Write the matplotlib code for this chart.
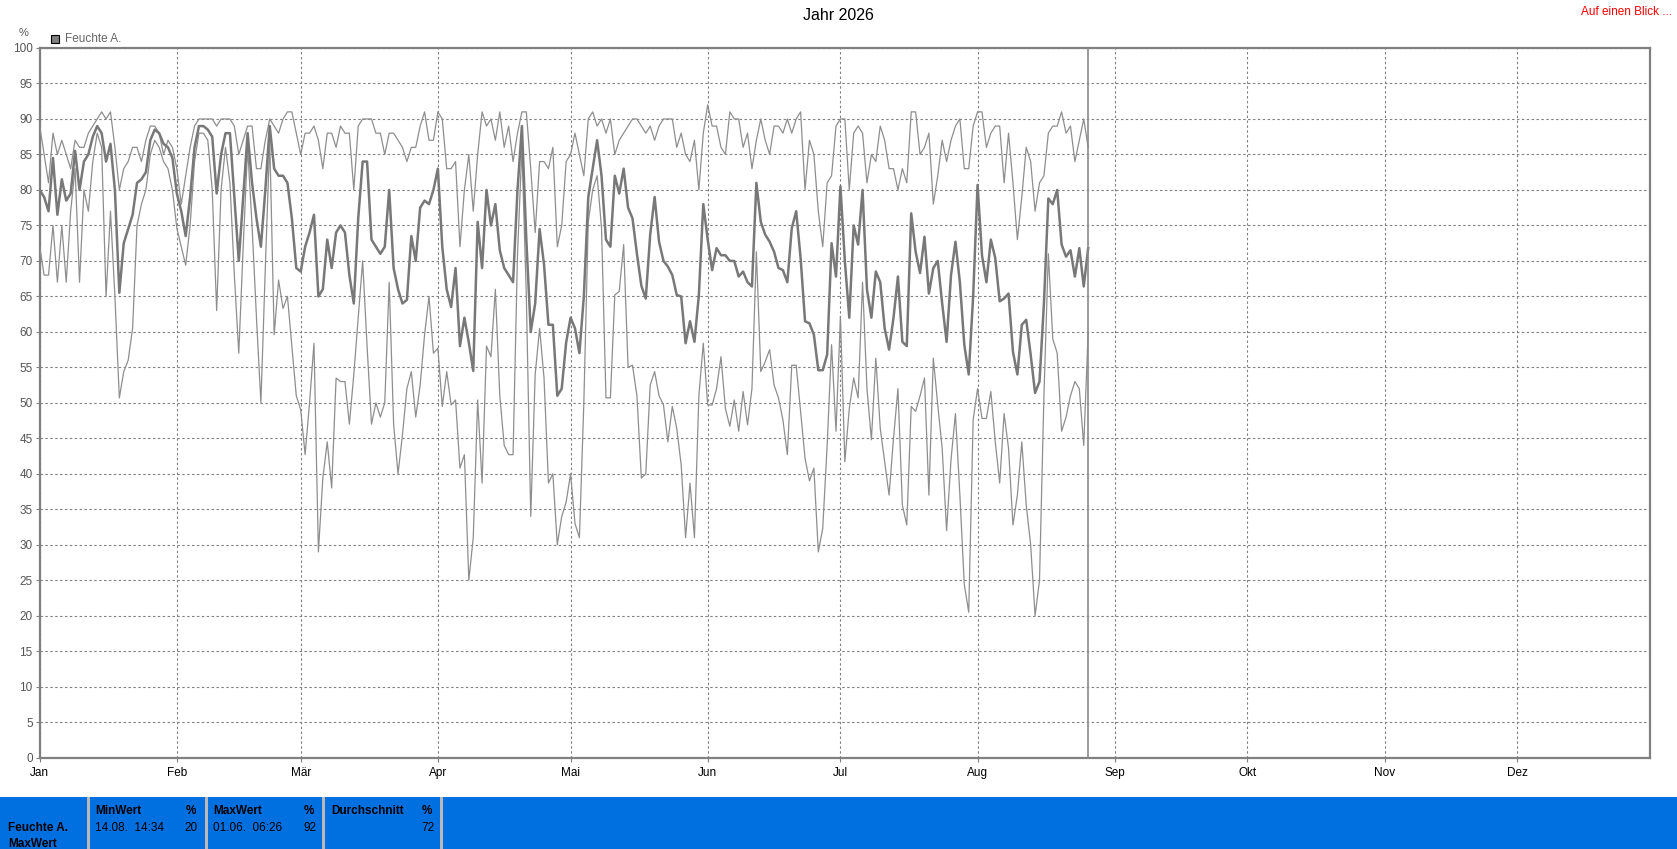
import matplotlib
matplotlib.use("Agg")
import matplotlib.pyplot as plt
from matplotlib.patches import Rectangle
from datetime import date
import numpy as np

plt.rcParams['font.family'] = ['Liberation Sans', 'DejaVu Sans']

W, H = 1677, 849

# daily values, Jan 1 .. Aug 26 2026 (relative humidity, %)
hum_max = [89, 85, 81, 88, 85, 87, 85, 83, 87, 86,
           86, 88, 89, 90, 91, 90, 91, 86, 80, 83,
           84, 86, 86, 84, 87, 89, 89, 88, 85, 87,
           86, 83, 78, 82, 86, 89, 90, 90, 90, 90,
           89, 90, 90, 90, 89, 85, 87, 89, 89, 83,
           83, 87, 90, 89, 88, 90, 91, 91, 88, 85,
           88, 88, 89, 87, 83, 88, 88, 86, 89, 88,
           88, 80, 89, 90, 90, 90, 88, 88, 85, 88,
           88, 87, 86, 84, 86, 86, 89, 91, 87, 87,
           91, 90, 83, 83, 84, 72, 80, 85, 77, 85,
           91, 89, 90, 87, 91, 86, 89, 84, 88, 91,
           91, 83, 74, 84, 84, 83, 86, 72, 75, 84,
           85, 88, 85, 82, 90, 91, 89, 90, 88, 90,
           85, 87, 88, 89, 90, 90, 89, 88, 89, 87,
           89, 90, 90, 90, 86, 88, 85, 84, 87, 80,
           88, 92, 89, 89, 86, 85, 91, 90, 90, 86,
           88, 83, 87, 90, 87, 85, 89, 89, 88, 90,
           88, 90, 91, 80, 87, 85, 77, 72, 81, 82,
           89, 90, 90, 80, 88, 89, 88, 81, 85, 84,
           89, 87, 83, 83, 80, 83, 81, 91, 91, 85,
           86, 88, 78, 82, 87, 84, 87, 89, 90, 83,
           83, 89, 91, 91, 86, 88, 89, 89, 81, 88,
           81, 73, 79, 86, 84, 77, 81, 82, 88, 89,
           89, 91, 88, 89, 84, 87, 90, 86]

hum_mean = [80, 79, 77, 84.5, 76.5, 81.5, 78.5, 79.5, 85.5, 80,
            84, 85, 87.5, 89, 88, 84, 86.5, 80, 65.5, 72.5,
            74.5, 76.5, 81, 81.5, 82.5, 87, 88.5, 88, 86.5, 86,
            84.5, 79.5, 77, 73.5, 79, 86, 89, 89, 88.5, 87.5,
            79.5, 85, 88, 88, 79, 70, 79, 88, 81, 76,
            72, 80, 89, 83, 82, 82, 81, 76, 69, 68.5,
            72, 74, 76.5, 65, 66, 73, 69, 74, 75, 74,
            68, 64, 76, 84, 84, 73, 72, 71, 72, 80,
            69, 66, 64, 64.5, 73.5, 70, 77.5, 78.5, 78, 80,
            83, 72, 66, 63.5, 69, 58, 62, 58.5, 54.5, 75.5,
            69, 80, 75, 78, 71.5, 69, 68, 67, 80, 89,
            73, 60, 64, 74.5, 69.5, 61, 61, 51, 52, 58.5,
            62, 60.5, 57, 65, 79, 83, 87, 82, 73, 72,
            82, 79.5, 83, 77.5, 76, 71, 66.5, 64.7, 73.7, 79,
            72.7, 70, 69.2, 68, 65.2, 65, 58.4, 61.5, 58.6, 65.2,
            78, 73, 68.7, 71.8, 70.8, 70.8, 70, 70, 67.8, 68.5,
            67, 66.4, 81, 75.5, 73.7, 72.7, 71.3, 69, 68.7, 67,
            74.6, 77, 70.4, 61.5, 61.2, 59.6, 54.6, 54.6, 56.8, 72.5,
            67.8, 80.5, 70, 62, 75, 72.3, 80, 66, 62, 68.5,
            67, 60.5, 57.5, 62, 67.8, 58.6, 58, 76.7, 71.3, 68.3,
            73.4, 65.4, 69, 70, 64, 58.6, 68, 72.7, 67, 58.2,
            54, 65, 80.7, 70.8, 67, 73, 70.4, 64.3, 64.7, 65.4,
            57.2, 54, 61, 61.7, 56.8, 51.4, 53, 64, 78.8, 78,
            80, 72.3, 70.6, 71.5, 67.8, 71.8, 66.4, 71.8]

hum_min = [72, 68, 68, 75, 67, 75, 67, 77, 83, 67,
           80, 77, 84, 88, 86, 65, 77, 65, 50.7, 54.4,
           56, 60.5, 75, 78, 80, 85, 87, 86, 84, 83,
           80, 74.6, 72, 69.4, 75, 84, 88, 88, 87, 80,
           63, 80, 86, 81, 68, 57, 72, 86, 75, 62,
           50, 69, 87, 59.6, 67.3, 63.3, 65, 58, 51, 49,
           42.7, 50, 58.4, 29, 39.4, 44.5, 38, 53.5, 53, 53,
           47, 54, 62, 70, 58, 47, 50, 48, 50, 67,
           47, 40, 45.5, 52, 54.4, 48, 52.5, 59.6, 65, 57,
           57.7, 49.5, 54.4, 49.7, 50.4, 40.8, 42.7, 25, 31, 50.4,
           38.7, 58, 56.5, 66, 51, 44, 42.7, 42.7, 70.8, 86,
           65, 34, 54, 60.5, 53.5, 38.7, 40, 30, 34, 36,
           40, 33, 31, 50, 75.5, 80, 82, 74.6, 50.7, 50.7,
           65.2, 65.7, 72.3, 55, 55.3, 51, 39.4, 40, 52.5, 54.4,
           51, 49.7, 44.5, 49.5, 46.4, 41.3, 31, 38.7, 31, 51,
           58.4, 49.7, 49.7, 52, 56.5, 49.2, 46.7, 50.4, 46, 51.6,
           46.9, 52, 71.3, 54.4, 55.8, 57.5, 52.5, 50.7, 47.6, 42.7,
           55.3, 55.3, 48.8, 42.2, 39, 40.8, 29, 32.3, 44, 58.2,
           46, 62.2, 41.7, 49.2, 53.5, 50.7, 67, 52, 44.8, 56.3,
           46.4, 41.7, 37, 45, 52, 35.6, 32.8, 49.5, 48.8, 51,
           53.5, 37, 56.3, 49.7, 43.6, 32, 42, 48.5, 37, 24.4,
           20.5, 47.6, 52, 47.8, 47.8, 51.6, 44.5, 38.7, 48.5, 43.6,
           32.8, 37, 44.5, 35.6, 30, 20, 25, 51, 71, 59,
           57, 46, 48, 51, 53, 52, 44, 60]

months = ['Jan', 'Feb', 'Mär', 'Apr', 'Mai', 'Jun', 'Jul', 'Aug', 'Sep', 'Okt', 'Nov', 'Dez']
year = 2026

stat_heads = ['MinWert', 'MaxWert', 'Durchschnitt']
stat_times = ['14.08.  14:34', '01.06.  06:26', '']
stat_values = ['20', '92', '72']

start = date(year, 1, 1)
month_pos = [(date(year, m, 1) - start).days for m in range(1, 13)]
days = np.arange(len(hum_mean))

fig = plt.figure(figsize=(W / 100, H / 100), dpi=100)
fig.patch.set_facecolor('white')

x0, x1, y0, y1 = 39.7, 1650, 48, 757.7
ax = fig.add_axes([x0 / W, 1 - y1 / H, (x1 - x0) / W, (y1 - y0) / H])

ax.plot(days, hum_max, color='#8e8e8e', lw=0.9, zorder=3)
ax.plot(days, hum_min, color='#8e8e8e', lw=0.9, zorder=3)
ax.plot(days, hum_mean, color='#787878', lw=1.8, zorder=4)
ax.axvline(days[-1], color='#8a8a8a', lw=1.2, zorder=5)

ax.set_xlim(0, 364)
ax.set_ylim(0, 100)
ax.set_yticks(range(0, 101, 5))
ax.set_xticks(month_pos)
ax.set_xticklabels(months)
ax.grid(True, color='#808080', lw=0.8, linestyle=(0, (2.2, 2.2)), zorder=1)
for s in ax.spines.values():
    s.set_color('#808080')
    s.set_linewidth(1.6)
ax.tick_params(axis='both', colors='#808080', labelcolor='black', length=3,
               width=0.8, labelsize=8.5, pad=2)
ax.tick_params(axis='y', labelcolor='#555555')
ax.tick_params(axis='x', pad=4)

# header
fig.text(838 / W, 1 - 15 / H, 'Jahr %d' % year, ha='center', va='center', fontsize=11.5)
fig.text(1672 / W, 1 - 12 / H, 'Auf einen Blick ...', ha='right', va='center',
         fontsize=8.5, color='red')
fig.text(24 / W, 1 - 33 / H, '%', ha='center', va='center', fontsize=8, color='#555555')
fig.patches.append(Rectangle((51 / W, 1 - 43 / H), 8 / W, 8 / H, transform=fig.transFigure,
                             facecolor='#808080', edgecolor='black', lw=0.8))
fig.text(65 / W, 1 - 38.5 / H, 'Feuchte A.', ha='left', va='center', fontsize=8.5,
         color='#666666')

# bottom summary panel
ptop = 797
fig.patches.append(Rectangle((0, 0), 1, 1 - ptop / H, transform=fig.transFigure,
                             facecolor='#0070e0', edgecolor='none'))
for sx in [88, 206, 323, 441]:
    fig.patches.append(Rectangle(((sx - 1.5) / W, 0), 3 / W, 1 - ptop / H,
                                 transform=fig.transFigure, facecolor='#b8b8b8',
                                 edgecolor='none'))
fig.text(8 / W, 1 - 828 / H, 'Feuchte A.', fontsize=8.5, fontweight='bold', va='center')
fig.text(8 / W, 1 - 844 / H, 'MaxWert', fontsize=8.5, fontweight='bold', va='center')
cells = [(95, 198), (213, 316), (331, 434)]
for (cx, rx), head, tm, val in zip(cells, stat_heads, stat_times, stat_values):
    fig.text(cx / W, 1 - 811 / H, head, fontsize=8.5, fontweight='bold', va='center')
    fig.text((rx - 2) / W, 1 - 811 / H, '%', fontsize=8.5, fontweight='bold',
             va='center', ha='right')
    fig.text(cx / W, 1 - 828 / H, tm, fontsize=8.5, va='center')
    fig.text(rx / W, 1 - 828 / H, val, fontsize=8.5, va='center', ha='right')

fig.savefig('out.png', dpi=100)
